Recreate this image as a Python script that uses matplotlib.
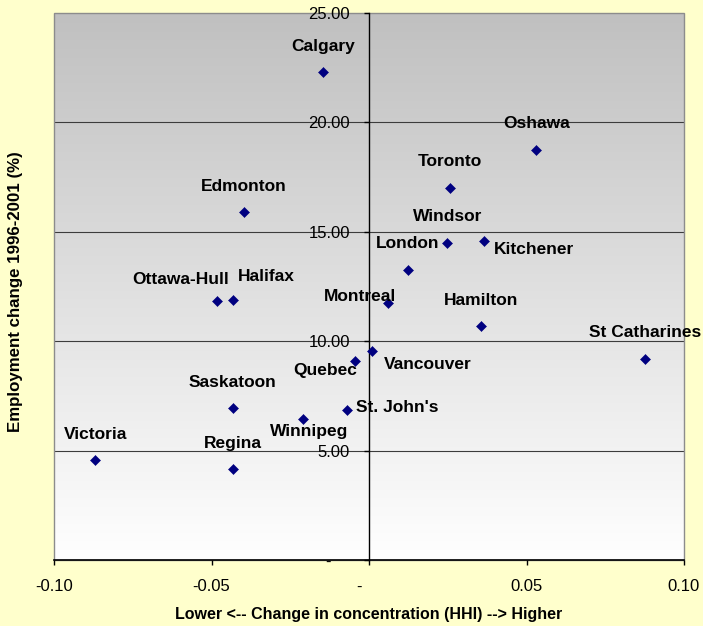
import numpy as np
import matplotlib.pyplot as plt
from matplotlib.colors import LinearSegmentedColormap
from matplotlib.patches import Rectangle

plt.rcParams['font.family'] = ['Liberation Sans', 'DejaVu Sans']

cities = ['Calgary', 'Edmonton', 'Ottawa-Hull', 'Halifax', 'Oshawa', 'Toronto',
          'Windsor', 'London', 'Kitchener', 'Montreal', 'Hamilton', 'Vancouver',
          'Quebec', "St. John's", 'Winnipeg', 'Saskatoon', 'Victoria', 'Regina',
          'St Catharines']
hhi_change = [-0.0146, -0.0398, -0.0484, -0.0433, 0.0531, 0.0257,
              0.0249, 0.0124, 0.0365, 0.0060, 0.0357, 0.0009,
              -0.0045, -0.0069, -0.0210, -0.0433, -0.0869, -0.0433,
              0.0877]
emp_change = [22.32, 15.90, 11.85, 11.90, 18.74, 17.02,
              14.50, 13.27, 14.58, 11.73, 10.68, 9.57,
              9.09, 6.87, 6.44, 6.93, 4.57, 4.14,
              9.20]

x_ticks = [-0.10, -0.05, 0, 0.05, 0.10]
x_tick_labels = ['-0.10', '-0.05', '-    ', '0.05', '0.10']
y_ticks = [0, 5, 10, 15, 20, 25]
y_tick_labels = ['-    ', '5.00', '10.00', '15.00', '20.00', '25.00']

# label offsets in pixels (dx, dy) from each point
label_offsets = {
    'Calgary': (0, 25), 'Edmonton': (0, 26), 'Ottawa-Hull': (-36, 21),
    'Halifax': (34, 23), 'Oshawa': (0, 26), 'Toronto': (0, 26),
    'Windsor': (0, 26), 'London': (0, 26), 'Kitchener': (50, -9),
    'Montreal': (-28, 7), 'Hamilton': (0, 26), 'Vancouver': (56, -14),
    'Quebec': (-30, -9), "St. John's": (50, 2), 'Winnipeg': (6, -12),
    'Saskatoon': (0, 26), 'Victoria': (0, 26), 'Regina': (0, 26),
    'St Catharines': (0, 26),
}

fig = plt.figure(figsize=(7.03, 6.26), dpi=100, facecolor='#FFFFCC')
ax = fig.add_axes([54 / 703, 66 / 626, 630 / 703, 547 / 626])
ax.set_facecolor('white')

# grey-to-white gradient of the plot area
grad = np.linspace(0, 1, 256).reshape(-1, 1)
cmap = LinearSegmentedColormap.from_list('bg', ['#FFFFFF', '#C0C0C0'])
ax.imshow(grad, extent=(0, 1, 0, 1), transform=ax.transAxes, aspect='auto',
          cmap=cmap, origin='lower', zorder=0)

ax.set_xlim(-0.1, 0.1)
ax.set_ylim(0, 25)

for y in y_ticks[1:-1]:
    ax.axhline(y, color='#3c3c3c', lw=0.8, zorder=1)

ax.add_patch(Rectangle((0, 0), 1, 1, transform=ax.transAxes, fill=False,
                       edgecolor='#8c8c8c', lw=1.0, zorder=1, clip_on=False))

ax.spines['left'].set_position(('data', 0))
ax.spines['left'].set_color('black')
ax.spines['left'].set_linewidth(1.0)
ax.spines['left'].set_zorder(2)
ax.spines['bottom'].set_color('black')
ax.spines['bottom'].set_linewidth(1.2)
ax.spines['top'].set_visible(False)
ax.spines['right'].set_visible(False)

ax.set_xticks(x_ticks)
ax.set_xticklabels(x_tick_labels)
ax.set_yticks(y_ticks)
ax.set_yticklabels(y_tick_labels)
ax.tick_params(axis='both', direction='out', length=3.6, width=1.0,
               labelsize=12, colors='black', pad=10)

ax.plot(hhi_change, emp_change, linestyle='none', marker='D', markersize=4.6,
        color='#000080', markeredgewidth=0.4, zorder=3, clip_on=False)

for name, x, y in zip(cities, hhi_change, emp_change):
    dx, dy = label_offsets[name]
    ax.annotate(name, (x, y), xytext=(dx * 0.72, dy * 0.72),
                textcoords='offset points', ha='center', va='center',
                fontsize=12.5, fontweight='bold', color='black',
                annotation_clip=False, zorder=4)

fig.text(369 / 703, 1 - 614 / 626,
         'Lower <-- Change in concentration (HHI) --> Higher',
         ha='center', va='center', fontsize=11.5, fontweight='bold')
fig.text(16 / 703, 1 - 292 / 626, 'Employment change 1996-2001 (%)',
         ha='center', va='center', rotation=90, fontsize=12.2, fontweight='bold')

fig.savefig('out.png', dpi=100, facecolor=fig.get_facecolor())
